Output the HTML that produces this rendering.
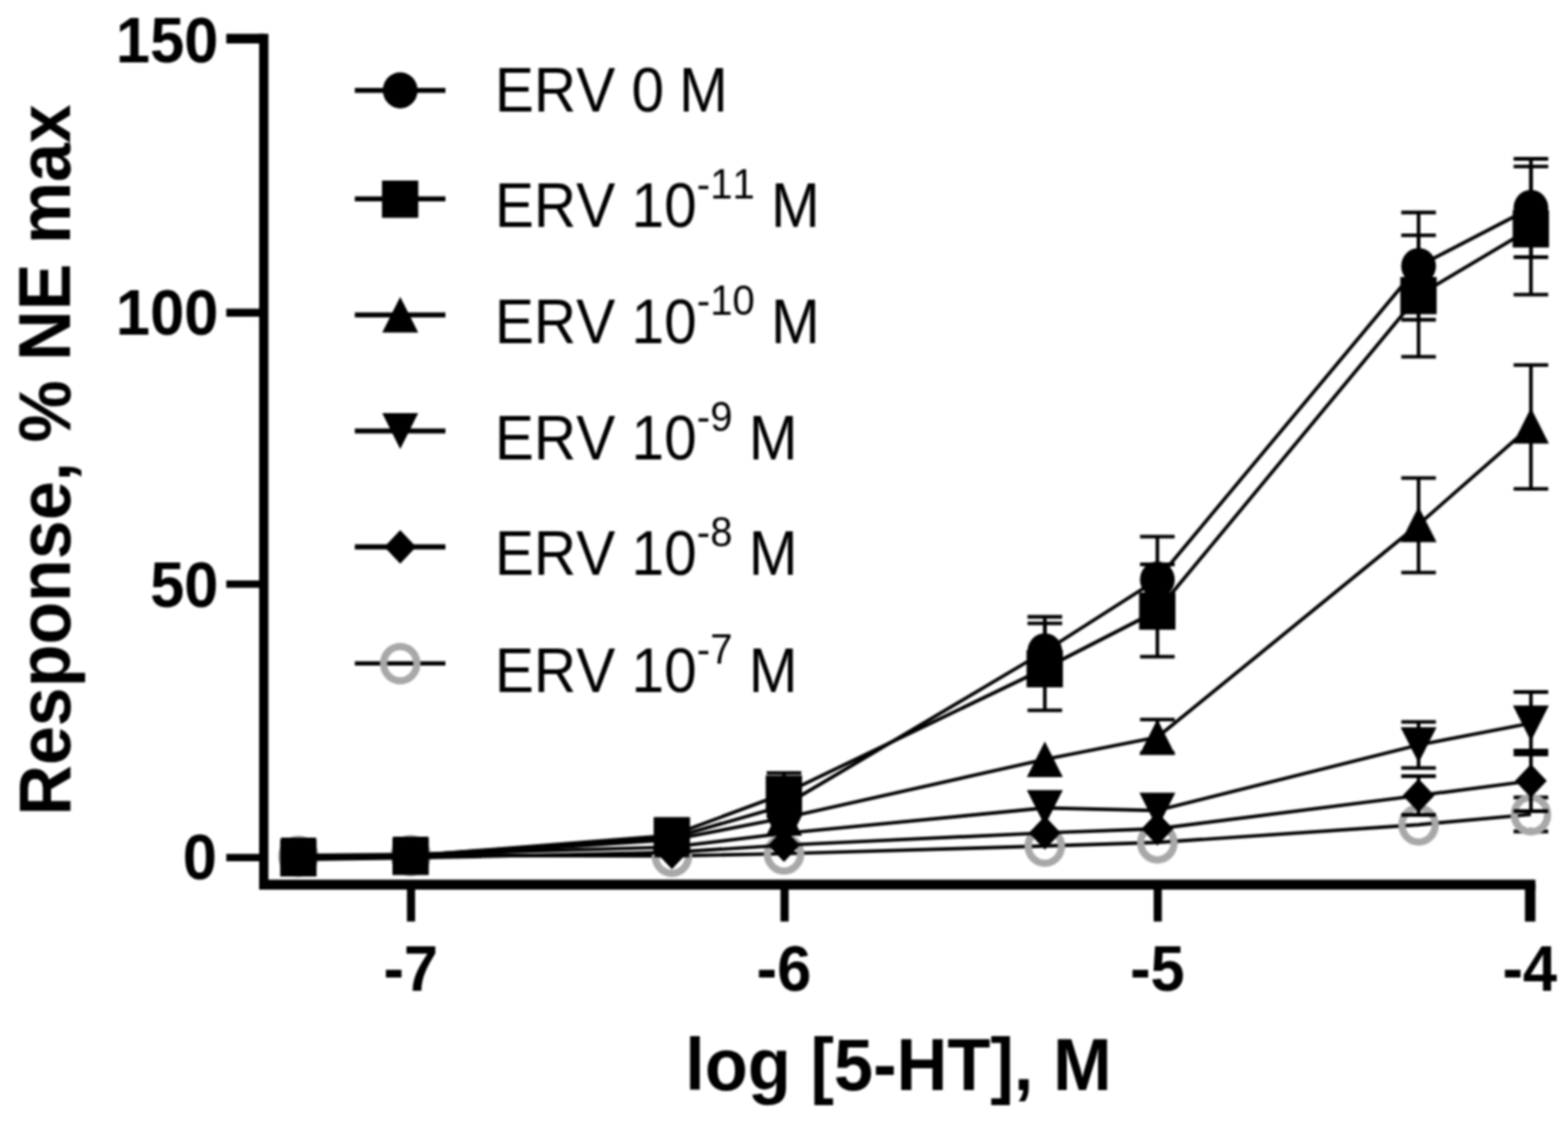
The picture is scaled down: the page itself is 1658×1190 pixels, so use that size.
<!DOCTYPE html>
<html lang="en">
<head>
<meta charset="utf-8">
<style>
html,body{margin:0;padding:0;background:#fff;}
body{width:1658px;height:1190px;overflow:hidden;}
svg{display:block;filter:blur(1px);}
svg text{font-family:"Liberation Sans",sans-serif;fill:#000;font-kerning:none;}
</style>
</head>
<body>
<svg width="1658" height="1190" viewBox="0 0 1658 1190">
<rect width="1658" height="1190" fill="#fff"/>
<g id="series">
<g>
<path d="M1618.80,843.50V879.50M1600.50,843.50H1637.10M1600.50,879.50H1637.10" fill="none" stroke="#000" stroke-width="3.8"/>
<circle cx="1618.8" cy="861.5" r="14.2" fill="#fff"/>
<polyline points="315.60,905.60 434.30,904.80 710.50,905.40 829.00,903.00 1104.80,894.80 1223.80,891.20 1500.00,872.30 1618.80,861.50" fill="none" stroke="#000" stroke-width="3.7" stroke-linejoin="round"/>
<ellipse cx="315.6" cy="905.80" rx="17.6" ry="18.2" fill="none" stroke="#a8a8a8" stroke-width="7.7"/>
<ellipse cx="434.3" cy="905.00" rx="17.6" ry="18.2" fill="none" stroke="#a8a8a8" stroke-width="7.7"/>
<ellipse cx="710.5" cy="905.60" rx="17.6" ry="18.2" fill="none" stroke="#a8a8a8" stroke-width="7.7"/>
<ellipse cx="829.0" cy="903.20" rx="17.6" ry="18.2" fill="none" stroke="#a8a8a8" stroke-width="7.7"/>
<ellipse cx="1104.8" cy="895.00" rx="17.6" ry="18.2" fill="none" stroke="#a8a8a8" stroke-width="7.7"/>
<ellipse cx="1223.8" cy="891.40" rx="17.6" ry="18.2" fill="none" stroke="#a8a8a8" stroke-width="7.7"/>
<ellipse cx="1500.0" cy="872.50" rx="17.6" ry="18.2" fill="none" stroke="#a8a8a8" stroke-width="7.7"/>
<ellipse cx="1618.8" cy="861.70" rx="17.6" ry="18.2" fill="none" stroke="#a8a8a8" stroke-width="7.7"/>
</g>
<g>
<path d="M1500.00,821.00V862.00M1481.70,821.00H1518.30M1481.70,862.00H1518.30M1618.80,794.00V858.00M1600.50,794.00H1637.10M1600.50,858.00H1637.10" fill="none" stroke="#000" stroke-width="3.8"/>
<polyline points="315.60,909.20 434.30,907.50 710.50,901.60 829.00,894.00 1104.80,881.00 1223.80,876.70 1500.00,841.50 1618.80,826.00" fill="none" stroke="#000" stroke-width="3.7" stroke-linejoin="round"/>
<polygon points="315.60,891.40 332.40,909.20 315.60,927.00 298.80,909.20" fill="#000"/>
<polygon points="434.30,889.70 451.10,907.50 434.30,925.30 417.50,907.50" fill="#000"/>
<polygon points="710.50,883.80 727.30,901.60 710.50,919.40 693.70,901.60" fill="#000"/>
<polygon points="829.00,876.20 845.80,894.00 829.00,911.80 812.20,894.00" fill="#000"/>
<polygon points="1104.80,863.20 1121.60,881.00 1104.80,898.80 1088.00,881.00" fill="#000"/>
<polygon points="1223.80,858.90 1240.60,876.70 1223.80,894.50 1207.00,876.70" fill="#000"/>
<polygon points="1500.00,823.70 1516.80,841.50 1500.00,859.30 1483.20,841.50" fill="#000"/>
<polygon points="1618.80,808.20 1635.60,826.00 1618.80,843.80 1602.00,826.00" fill="#000"/>
</g>
<g>
<path d="M1500.00,763.70V812.30M1481.70,763.70H1518.30M1481.70,812.30H1518.30M1618.80,732.00V798.00M1600.50,732.00H1637.10M1600.50,798.00H1637.10" fill="none" stroke="#000" stroke-width="3.8"/>
<polyline points="315.60,904.80 434.30,903.80 710.50,896.00 829.00,881.50 1104.80,854.60 1223.80,857.30 1500.00,788.00 1618.80,765.00" fill="none" stroke="#000" stroke-width="3.7" stroke-linejoin="round"/>
<polygon points="315.60,923.80 334.60,886.00 296.60,886.00" fill="#000"/>
<polygon points="434.30,922.80 453.30,885.00 415.30,885.00" fill="#000"/>
<polygon points="710.50,915.00 729.50,877.20 691.50,877.20" fill="#000"/>
<polygon points="829.00,900.50 848.00,862.70 810.00,862.70" fill="#000"/>
<polygon points="1104.80,873.60 1123.80,835.80 1085.80,835.80" fill="#000"/>
<polygon points="1223.80,876.30 1242.80,838.50 1204.80,838.50" fill="#000"/>
<polygon points="1500.00,807.00 1519.00,769.20 1481.00,769.20" fill="#000"/>
<polygon points="1618.80,784.00 1637.80,746.20 1599.80,746.20" fill="#000"/>
</g>
<g>
<path d="M1223.80,761.10V796.40M1205.50,761.10H1242.10M1205.50,796.40H1242.10M1500.00,505.70V605.70M1481.70,505.70H1518.30M1481.70,605.70H1518.30M1618.80,386.10V517.20M1600.50,386.10H1637.10M1600.50,517.20H1637.10" fill="none" stroke="#000" stroke-width="3.8"/>
<polyline points="315.60,908.20 434.30,906.60 710.50,888.20 829.00,865.30 1104.80,803.30 1223.80,779.80 1500.00,554.80 1618.80,450.60" fill="none" stroke="#000" stroke-width="3.7" stroke-linejoin="round"/>
<polygon points="315.60,889.20 334.60,926.80 296.60,926.80" fill="#000"/>
<polygon points="434.30,887.60 453.30,925.20 415.30,925.20" fill="#000"/>
<polygon points="710.50,869.20 729.50,906.80 691.50,906.80" fill="#000"/>
<polygon points="829.00,846.30 848.00,883.90 810.00,883.90" fill="#000"/>
<polygon points="1104.80,784.30 1123.80,821.90 1085.80,821.90" fill="#000"/>
<polygon points="1223.80,760.80 1242.80,798.40 1204.80,798.40" fill="#000"/>
<polygon points="1500.00,535.80 1519.00,573.40 1481.00,573.40" fill="#000"/>
<polygon points="1618.80,431.60 1637.80,469.20 1599.80,469.20" fill="#000"/>
</g>
<g>
<path d="M1104.80,652.50V725.00M1086.50,652.50H1123.10M1086.50,725.00H1123.10M1223.80,567.60V660.00M1205.50,567.60H1242.10M1205.50,660.00H1242.10M1500.00,224.75V338.25M1481.70,224.75H1518.30M1481.70,338.25H1518.30M1618.80,168.00V272.00M1600.50,168.00H1637.10M1600.50,272.00H1637.10" fill="none" stroke="#000" stroke-width="3.8"/>
<polyline points="315.60,906.50 434.30,905.00 710.50,886.30 829.00,852.20 1104.80,689.00 1223.80,613.00 1500.00,281.50 1618.80,220.00" fill="none" stroke="#000" stroke-width="3.7" stroke-linejoin="round"/>
<ellipse cx="315.6" cy="906.5" rx="18.4" ry="19.1" fill="#000"/>
<ellipse cx="434.3" cy="905.0" rx="18.4" ry="19.1" fill="#000"/>
<ellipse cx="710.5" cy="886.3" rx="18.4" ry="19.1" fill="#000"/>
<ellipse cx="829.0" cy="852.2" rx="18.4" ry="19.1" fill="#000"/>
<ellipse cx="1104.8" cy="689" rx="18.4" ry="19.1" fill="#000"/>
<ellipse cx="1223.8" cy="613" rx="18.4" ry="19.1" fill="#000"/>
<ellipse cx="1500.0" cy="281.5" rx="18.4" ry="19.1" fill="#000"/>
<ellipse cx="1618.8" cy="220" rx="18.4" ry="19.1" fill="#000"/>
</g>
<g>
<path d="M829.00,817.60V861.00M810.70,817.60H847.30M810.70,861.00H847.30M1104.80,659.30V751.40M1086.50,659.30H1123.10M1086.50,751.40H1123.10M1223.80,597.00V694.60M1205.50,597.00H1242.10M1205.50,694.60H1242.10M1500.00,248.90V377.40M1481.70,248.90H1518.30M1481.70,377.40H1518.30M1618.80,176.10V311.60M1600.50,176.10H1637.10M1600.50,311.60H1637.10" fill="none" stroke="#000" stroke-width="3.8"/>
<polyline points="315.60,907.00 434.30,905.40 710.50,883.60 829.00,839.60 1104.80,707.00 1223.80,646.00 1500.00,312.30 1618.80,241.70" fill="none" stroke="#000" stroke-width="3.7" stroke-linejoin="round"/>
<rect x="296.30" y="887.70" width="38.4" height="39.4" fill="#000"/>
<rect x="415.00" y="886.10" width="38.4" height="39.4" fill="#000"/>
<rect x="691.20" y="864.30" width="38.4" height="39.4" fill="#000"/>
<rect x="809.70" y="820.30" width="38.4" height="39.4" fill="#000"/>
<rect x="1085.50" y="687.70" width="38.4" height="39.4" fill="#000"/>
<rect x="1204.50" y="626.70" width="38.4" height="39.4" fill="#000"/>
<rect x="1480.70" y="293.00" width="38.4" height="39.4" fill="#000"/>
<rect x="1599.50" y="222.40" width="38.4" height="39.4" fill="#000"/>
</g>
</g>
<g id="axes">
<path d="M278.9,35.8V940" fill="none" stroke="#000" stroke-width="9.8"/>
<path d="M274,935.8H1623.5" fill="none" stroke="#000" stroke-width="10.5"/>
<path d="M239.3,40.8H279" fill="none" stroke="#000" stroke-width="10.2"/>
<path d="M239.3,330.8H279" fill="none" stroke="#000" stroke-width="8.4"/>
<path d="M239.3,617.9H279M239.3,907.1H279" fill="none" stroke="#000" stroke-width="7.9"/>
<path d="M434.6,935V974.7M829.6,935V974.7M1224.2,935V974.7" fill="none" stroke="#000" stroke-width="8.6"/>
<path d="M1618,935V974.8" fill="none" stroke="#000" stroke-width="11"/>
</g>
<g id="ticks">
<g font-weight="700" font-size="65" text-anchor="end">
<text transform="translate(231,66.3) scale(1,1.065)">150</text>
<text transform="translate(231,354.1) scale(1,1.065)">100</text>
<text transform="translate(231,642.4) scale(1,1.065)">50</text>
<text transform="translate(229.3,930.3) scale(1,1.065)">0</text>
</g>
<g font-weight="700" font-size="65" text-anchor="middle">
<text transform="translate(434.3,1048) scale(1,1.065)">-7</text>
<text transform="translate(829,1048) scale(1,1.065)">-6</text>
<text transform="translate(1223.8,1048) scale(1,1.065)">-5</text>
<text transform="translate(1617.6,1048) scale(1,1.065)">-4</text>
</g>
</g>
<g id="titles">
<text transform="translate(950,1153.2) scale(1,1.05)" font-weight="700" font-size="74.5" text-anchor="middle">log [5-HT], M</text>
<text transform="translate(74.3,486.5) rotate(-90) scale(1,1.04)" font-weight="700" font-size="74" text-anchor="middle">Response, % NE max</text>
</g>
<g id="legend"><line x1="375.2" y1="95.6" x2="471" y2="95.6" stroke="#000" stroke-width="5.3"/>
<ellipse cx="423.2" cy="95.6" rx="18.4" ry="19.1" fill="#000"/>
<text transform="translate(523.2,118.1) scale(1,1.065)" font-size="62">ERV 0 <tspan dx="-1.6">M</tspan></text>
<line x1="375.2" y1="210.3" x2="471" y2="210.3" stroke="#000" stroke-width="5.3"/>
<rect x="403.90" y="191.00" width="38.4" height="39.4" fill="#000"/>
<text transform="translate(523.2,240.0) scale(1,1.065)" font-size="62">ERV 10<tspan font-size="42.4" dy="-28.0">-11</tspan><tspan dy="28.0"> M</tspan></text>
<line x1="375.2" y1="333.1" x2="471" y2="333.1" stroke="#000" stroke-width="5.3"/>
<polygon points="423.20,314.10 442.20,351.70 404.20,351.70" fill="#000"/>
<text transform="translate(523.2,362.8) scale(1,1.065)" font-size="62">ERV 10<tspan font-size="42.4" dy="-28.0">-10</tspan><tspan dy="28.0"> M</tspan></text>
<line x1="375.2" y1="455.9" x2="471" y2="455.9" stroke="#000" stroke-width="5.3"/>
<polygon points="423.20,474.90 442.20,437.10 404.20,437.10" fill="#000"/>
<text transform="translate(523.2,485.6) scale(1,1.065)" font-size="62">ERV 10<tspan font-size="42.4" dy="-28.0">-9</tspan><tspan dy="28.0"> M</tspan></text>
<line x1="375.2" y1="578.5" x2="471" y2="578.5" stroke="#000" stroke-width="5.3"/>
<polygon points="423.20,560.70 440.00,578.50 423.20,596.30 406.40,578.50" fill="#000"/>
<text transform="translate(523.2,608.2) scale(1,1.065)" font-size="62">ERV 10<tspan font-size="42.4" dy="-28.0">-8</tspan><tspan dy="28.0"> M</tspan></text>
<line x1="375.2" y1="701.8" x2="471" y2="701.8" stroke="#000" stroke-width="4.4"/>
<ellipse cx="423.2" cy="702.00" rx="17.6" ry="18.2" fill="none" stroke="#a8a8a8" stroke-width="7.7"/>
<text transform="translate(523.2,731.5) scale(1,1.065)" font-size="62">ERV 10<tspan font-size="42.4" dy="-28.0">-7</tspan><tspan dy="28.0"> M</tspan></text></g>
</svg>
</body>
</html>
